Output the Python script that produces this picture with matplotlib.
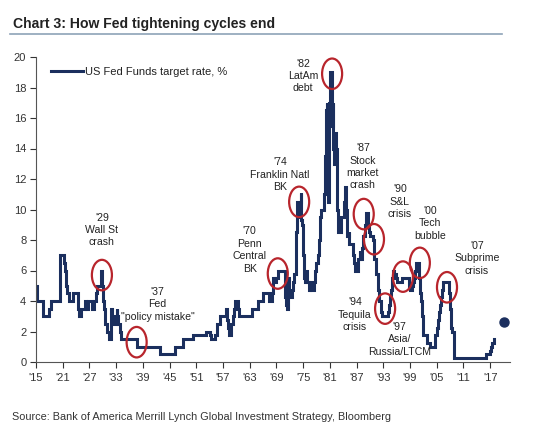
import matplotlib
matplotlib.use("Agg")
import matplotlib.pyplot as plt
from matplotlib.patches import Ellipse

plt.rcParams['font.family'] = ['Liberation Sans', 'DejaVu Sans']

# ---- data: step series (date of change, new rate) ----
dates = [1915.0, 1915.2, 1916.6, 1918.0, 1918.3, 1920.3, 1920.5, 1921.4, 1921.6, 1921.8,
         1921.9, 1922.5, 1923.2, 1924.4, 1924.5, 1924.6, 1925.2, 1926.1, 1926.3, 1926.6,
         1927.6, 1928.1, 1928.4, 1928.6, 1929.6, 1929.85, 1929.95, 1930.1, 1930.2, 1930.4,
         1930.5, 1930.95, 1931.4, 1931.8, 1931.85, 1932.1, 1932.5, 1933.2, 1933.3, 1933.4,
         1933.8, 1934.1, 1937.7, 1942.8, 1946.2, 1948.0, 1950.2, 1953.1, 1954.1, 1954.4,
         1955.3, 1955.6, 1955.7, 1956.3, 1957.6, 1957.9, 1958.0, 1958.2, 1958.3, 1958.7,
         1958.9, 1959.2, 1959.4, 1959.7, 1960.4, 1960.6, 1963.5, 1964.9, 1965.9, 1967.3,
         1967.9, 1968.3, 1968.6, 1968.9, 1969.3, 1970.9, 1971.0, 1971.1, 1971.3, 1971.5,
         1971.7, 1971.9, 1972.1, 1972.5, 1972.8, 1973.0, 1973.3, 1973.5, 1973.7, 1974.0,
         1974.3, 1974.45, 1974.6, 1974.8, 1975.0, 1975.2, 1975.4, 1975.7, 1975.9, 1976.3,
         1976.5, 1976.8, 1977.4, 1977.6, 1977.9, 1978.3, 1978.6, 1978.8, 1979.0, 1979.6,
         1979.8, 1980.1, 1980.3, 1980.45, 1980.6, 1980.75, 1980.9, 1981.0, 1981.35, 1981.5,
         1981.65, 1981.8, 1982.0, 1982.15, 1982.4, 1982.55, 1982.75, 1982.9, 1983.4, 1984.2,
         1984.4, 1984.7, 1984.9, 1985.2, 1985.4, 1986.2, 1986.4, 1986.6, 1987.3, 1987.7,
         1987.8, 1988.3, 1988.5, 1988.9, 1989.1, 1989.5, 1989.8, 1990.0, 1990.6, 1990.9,
         1991.0, 1991.3, 1991.8, 1992.0, 1992.5, 1992.7, 1994.1, 1994.3, 1994.4, 1994.7,
         1994.9, 1995.1, 1995.5, 1995.95, 1996.1, 1997.2, 1998.7, 1998.8, 1998.9, 1999.5,
         1999.7, 1999.9, 2000.1, 2000.2, 2000.4, 2001.0, 2001.1, 2001.25, 2001.4, 2001.6,
         2001.7, 2001.8, 2001.9, 2002.0, 2002.85, 2003.5, 2004.5, 2004.7, 2004.95, 2005.2,
         2005.5, 2005.75, 2006.0, 2006.25, 2006.5, 2007.7, 2007.8, 2007.95, 2008.05, 2008.1,
         2008.25, 2008.35, 2008.8, 2008.85, 2008.95, 2015.95, 2016.95, 2017.2, 2017.45, 2017.95]
rates = [5.0, 4.0, 3.0, 3.5, 4.0, 6.0, 7.0, 6.5, 6.0, 5.0,
         4.5, 4.0, 4.5, 4.0, 3.5, 3.0, 3.5, 4.0, 3.5, 4.0,
         3.5, 4.0, 4.5, 5.0, 6.0, 5.0, 4.5, 4.0, 3.5, 3.0,
         2.5, 2.0, 1.5, 2.5, 3.5, 3.0, 2.5, 3.5, 3.0, 2.5,
         2.0, 1.5, 1.0, 0.5, 1.0, 1.5, 1.75, 2.0, 1.75, 1.5,
         1.75, 2.25, 2.5, 3.0, 3.5, 3.0, 2.75, 2.25, 1.75, 2.0,
         2.5, 3.0, 3.5, 4.0, 3.5, 3.0, 3.5, 4.0, 4.5, 4.0,
         4.5, 5.5, 5.25, 5.5, 6.0, 5.0, 4.25, 3.75, 3.5, 5.0,
         5.5, 4.5, 4.25, 4.75, 5.25, 5.75, 7.0, 8.5, 10.5, 9.5,
         10.5, 11.1, 9.3, 9.0, 7.0, 5.5, 5.25, 6.0, 5.25, 4.75,
         5.25, 4.75, 5.25, 6.0, 6.5, 7.0, 8.0, 9.5, 10.0, 11.0,
         13.5, 16.5, 17.0, 11.0, 10.5, 13.0, 17.0, 19.0, 19.0, 15.5,
         17.0, 14.0, 13.0, 15.0, 14.0, 10.0, 9.0, 8.5, 9.5, 10.5,
         11.5, 10.0, 8.25, 8.5, 7.75, 7.0, 6.5, 6.0, 6.75, 7.25,
         6.75, 7.5, 8.25, 9.0, 9.75, 9.0, 8.5, 8.25, 8.0, 7.25,
         6.75, 5.75, 4.75, 4.0, 3.25, 3.0, 3.25, 3.75, 4.25, 4.75,
         5.5, 6.0, 5.75, 5.5, 5.25, 5.5, 5.25, 5.0, 4.75, 5.0,
         5.25, 5.5, 5.75, 6.0, 6.5, 6.0, 5.5, 4.5, 4.0, 3.5,
         3.0, 2.5, 2.0, 1.75, 1.25, 1.0, 1.25, 1.75, 2.25, 2.75,
         3.25, 3.75, 4.25, 4.75, 5.25, 4.75, 4.5, 4.25, 3.5, 3.0,
         2.25, 2.0, 1.5, 1.0, 0.25, 0.5, 0.75, 1.0, 1.25, 1.5]

proj_year = [2020.2]
proj_rate = [2.65]

tick_years = [1915, 1921, 1927, 1933, 1939, 1945, 1951, 1957, 1963, 1969,
              1975, 1981, 1987, 1993, 1999, 2005, 2011, 2017]
tick_labels = ["'15", "'21", "'27", "'33", "'39", "'45", "'51", "'57", "'63", "'69",
               "'75", "'81", "'87", "'93", "'99", "'05", "'11", "'17"]

# events: circle centre (year, rate), label position (year, rate), label text
circle_x = [1929.8, 1937.6, 1969.3, 1974.1, 1981.5, 1988.6, 1990.9, 1993.4, 1997.4, 2001.2, 2007.3]
circle_y = [5.7, 1.3, 5.8, 10.5, 18.9, 9.7, 8.05, 3.5, 5.6, 6.5, 4.9]
label_x = [1929.8, 1942.3, 1963.0, 1969.8, 1975.0, 1988.4, 1996.7, 1986.6, 1996.7, 2003.5, 2014.0]
label_y = [8.65, 3.78, 7.34, 12.27, 18.75, 12.8, 10.5, 3.1, 1.48, 9.1, 6.8]
label_text = ["'29\nWall St\ncrash",
              "'37\nFed\n\"policy mistake\"",
              "'70\nPenn\nCentral\nBK",
              "'74\nFranklin Natl\nBK",
              "'82\nLatAm\ndebt",
              "'87\nStock\nmarket\ncrash",
              "'90\nS&L\ncrisis",
              "'94\nTequila\ncrisis",
              "'97\nAsia/\nRussia/LTCM",
              "'00\nTech\nbubble",
              "'07\nSubprime\ncrisis"]

navy = '#1b2f5e'
red = '#b8252c'
txt = '#222222'

fig = plt.figure(figsize=(5.5, 4.45), dpi=100)
ax = fig.add_axes([36/550, 1 - 362/445, (510 - 36)/550, (362 - 57)/445])

ax.plot(dates, rates, drawstyle='steps-post', color=navy, lw=2.2,
        label='US Fed Funds target rate, %', solid_joinstyle='miter')
ax.plot(proj_year, proj_rate, 'o', color=navy, ms=6.5)

for cx, cy in zip(circle_x, circle_y):
    ax.add_patch(Ellipse((cx, cy), width=4.5, height=2.0, fill=False,
                         edgecolor=red, lw=1.6, zorder=5))

for lx, ly, t in zip(label_x, label_y, label_text):
    ax.text(lx, ly, t, ha='center', va='center', fontsize=7.6, color=txt,
            linespacing=1.3)

ax.set_xlim(1915, 2021.45)
ax.set_ylim(0, 20)
ax.set_yticks(range(0, 21, 2))
ax.set_xticks(tick_years)
ax.set_xticklabels(tick_labels)
ax.tick_params(axis='both', labelsize=8, colors='#333333', length=4, width=0.8,
               direction='out')
ax.tick_params(axis='y', pad=3)
ax.tick_params(axis='x', pad=4)
for s in ['top', 'right']:
    ax.spines[s].set_visible(False)
for s in ['left', 'bottom']:
    ax.spines[s].set_color('#555555')
    ax.spines[s].set_linewidth(0.8)

leg = ax.legend(loc='upper left', bbox_to_anchor=(0.01, 1.0), frameon=False,
                fontsize=8, handlelength=2.9, handletextpad=0.15)
for t in leg.get_texts():
    t.set_color(txt)

fig.text(13/550, 1 - 24/445, 'Chart 3: How Fed tightening cycles end', fontsize=10.1,
         fontweight='bold', color='#222222', va='center', ha='left')
fig.add_artist(plt.Line2D([10/550, 502/550], [1 - 34/445, 1 - 34/445],
                          color='#8ea3b8', lw=1.2, transform=fig.transFigure))
fig.text(12/550, 1 - 417/445,
         'Source: Bank of America Merrill Lynch Global Investment Strategy, Bloomberg',
         fontsize=7.85, color='#333333', va='center', ha='left')

fig.savefig('out.png', dpi=100)
